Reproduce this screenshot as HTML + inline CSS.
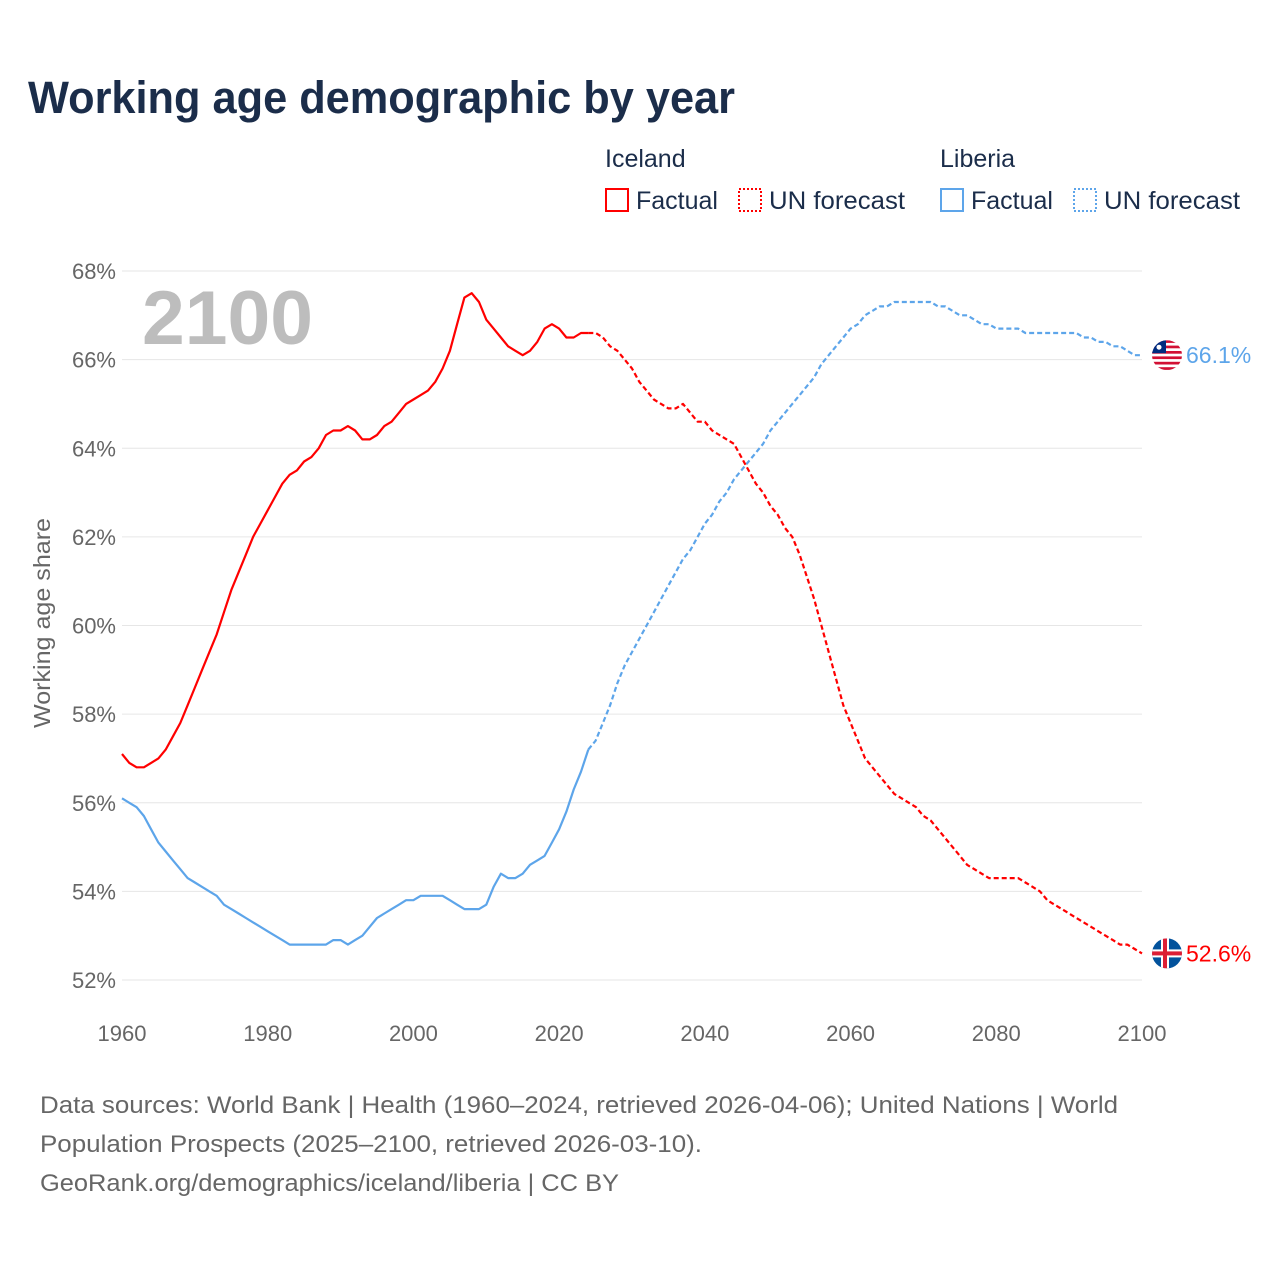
<!DOCTYPE html>
<html><head><meta charset="utf-8"><style>
body{margin:0;background:#fff;font-family:"Liberation Sans",sans-serif;}
#wrap{position:relative;width:1280px;height:1280px;overflow:hidden;}
svg text{font-family:"Liberation Sans",sans-serif;}
</style></head><body>
<div id="wrap">
<svg id="chart" width="1280" height="1280">
<text x="28" y="113" font-size="45" font-weight="bold" fill="#1b2d4a" textLength="707" lengthAdjust="spacingAndGlyphs">Working age demographic by year</text>
<g font-size="25" fill="#1b2d4a">
<text x="605" y="167">Iceland</text>
<rect x="606" y="189" width="22" height="22" fill="none" stroke="#ff0000" stroke-width="2"/>
<text x="636" y="209">Factual</text>
<rect x="739" y="189" width="22" height="22" fill="none" stroke="#ff0000" stroke-width="2" stroke-dasharray="2,2"/>
<text x="769" y="209" textLength="136" lengthAdjust="spacingAndGlyphs">UN forecast</text>
<text x="940" y="167">Liberia</text>
<rect x="941" y="189" width="22" height="22" fill="none" stroke="#5da5ea" stroke-width="2"/>
<text x="971" y="209">Factual</text>
<rect x="1074" y="189" width="22" height="22" fill="none" stroke="#5da5ea" stroke-width="2" stroke-dasharray="2,2"/>
<text x="1104" y="209" textLength="136" lengthAdjust="spacingAndGlyphs">UN forecast</text>
</g>
<g id="grid"></g>
<text x="142" y="344" font-size="76" font-weight="bold" fill="#bdbdbd" textLength="171" lengthAdjust="spacingAndGlyphs">2100</text>
<text transform="translate(50,623) rotate(-90)" text-anchor="middle" font-size="23" fill="#666" textLength="210" lengthAdjust="spacingAndGlyphs">Working age share</text>
<g id="series"></g>
<g font-size="24" fill="#666">
<text x="40" y="1113" textLength="1078" lengthAdjust="spacingAndGlyphs">Data sources: World Bank | Health (1960–2024, retrieved 2026-04-06); United Nations | World</text>
<text x="40" y="1152" textLength="662" lengthAdjust="spacingAndGlyphs">Population Prospects (2025–2100, retrieved 2026-03-10).</text>
<text x="40" y="1191" textLength="579" lengthAdjust="spacingAndGlyphs">GeoRank.org/demographics/iceland/liberia | CC BY</text>
</g>
</svg>
</div>
<script>
const yTicks=[52,54,56,58,60,62,64,66,68];
const xTicks=[1960,1980,2000,2020,2040,2060,2080,2100];
const icelandFactStart=1960;
const icelandFactual=[57.1,56.9,56.8,56.8,56.9,57.0,57.2,57.5,57.8,58.2,58.6,59.0,59.4,59.8,60.3,60.8,61.2,61.6,62.0,62.3,62.6,62.9,63.2,63.4,63.5,63.7,63.8,64.0,64.3,64.4,64.4,64.5,64.4,64.2,64.2,64.3,64.5,64.6,64.8,65.0,65.1,65.2,65.3,65.5,65.8,66.2,66.8,67.4,67.5,67.3,66.9,66.7,66.5,66.3,66.2,66.1,66.2,66.4,66.7,66.8,66.7,66.5,66.5,66.6,66.6];
const icelandFcStart=2024;
const icelandForecast=[66.6,66.6,66.5,66.3,66.2,66.0,65.8,65.5,65.3,65.1,65.0,64.9,64.9,65.0,64.8,64.6,64.6,64.4,64.3,64.2,64.1,63.8,63.5,63.2,63.0,62.7,62.5,62.2,62.0,61.6,61.1,60.6,60.0,59.4,58.8,58.2,57.8,57.4,57.0,56.8,56.6,56.4,56.2,56.1,56.0,55.9,55.7,55.6,55.4,55.2,55.0,54.8,54.6,54.5,54.4,54.3,54.3,54.3,54.3,54.3,54.2,54.1,54.0,53.8,53.7,53.6,53.5,53.4,53.3,53.2,53.1,53.0,52.9,52.8,52.8,52.7,52.6];
const liberiaFactStart=1960;
const liberiaFactual=[56.1,56.0,55.9,55.7,55.4,55.1,54.9,54.7,54.5,54.3,54.2,54.1,54.0,53.9,53.7,53.6,53.5,53.4,53.3,53.2,53.1,53.0,52.9,52.8,52.8,52.8,52.8,52.8,52.8,52.9,52.9,52.8,52.9,53.0,53.2,53.4,53.5,53.6,53.7,53.8,53.8,53.9,53.9,53.9,53.9,53.8,53.7,53.6,53.6,53.6,53.7,54.1,54.4,54.3,54.3,54.4,54.6,54.7,54.8,55.1,55.4,55.8,56.3,56.7,57.2];
const liberiaFcStart=2024;
const liberiaForecast=[57.2,57.4,57.8,58.2,58.7,59.1,59.4,59.7,60.0,60.3,60.6,60.9,61.2,61.5,61.7,62.0,62.3,62.5,62.8,63.0,63.3,63.5,63.7,63.9,64.1,64.4,64.6,64.8,65.0,65.2,65.4,65.6,65.9,66.1,66.3,66.5,66.7,66.8,67.0,67.1,67.2,67.2,67.3,67.3,67.3,67.3,67.3,67.3,67.2,67.2,67.1,67.0,67.0,66.9,66.8,66.8,66.7,66.7,66.7,66.7,66.6,66.6,66.6,66.6,66.6,66.6,66.6,66.6,66.5,66.5,66.4,66.4,66.3,66.3,66.2,66.1,66.1];
const NS='http://www.w3.org/2000/svg';
const X0=122,X1=1142,Y0=980,Y1=271;
const xs=y=>X0+(y-1960)*(X1-X0)/140;
const ys=v=>Y0-(v-52)*(Y0-Y1)/16;
const grid=document.getElementById('grid'),ser=document.getElementById('series');
function mk(tag,attrs,parent){const e=document.createElementNS(NS,tag);for(const k in attrs)e.setAttribute(k,attrs[k]);parent.appendChild(e);return e;}
yTicks.forEach(t=>{
 const l=mk('line',{x1:X0,x2:X1,y1:ys(t),y2:ys(t),stroke:'#e6e6e6','stroke-width':1},grid);
 
 
 const tx=mk('text',{x:116,y:ys(t)+8,'text-anchor':'end','font-size':22,fill:'#666'},grid);
 tx.textContent=t+'%';
 
 
});
xTicks.forEach(t=>{
 const tx=mk('text',{x:xs(t),y:1041,'text-anchor':'middle','font-size':22,fill:'#666'},grid);
 tx.textContent=t;
 
 
});
function path(arr,start,color,dash,name){
 const d=arr.map((v,i)=>(i?'L':'M')+xs(start+i).toFixed(1)+','+ys(v).toFixed(1)).join('');
 const p=mk('path',{d:d,fill:'none',stroke:color,'stroke-width':2.2,'stroke-linejoin':'round'},ser);
 if(dash)p.setAttribute('stroke-dasharray','5,3');
 
 
}
path(liberiaFactual,liberiaFactStart,'#5da5ea',false,'liberia-factual-line');
path(liberiaForecast,liberiaFcStart,'#5da5ea',true,'liberia-forecast-line');
path(icelandFactual,icelandFactStart,'#ff0000',false,'iceland-factual-line');
path(icelandForecast,icelandFcStart,'#ff0000',true,'iceland-forecast-line');
function endLabel(v,color,name,flag){
 const cx=1167,cy=ys(v);
 const g=mk('g',{},ser);
 
 
 const clip=mk('clipPath',{id:name+'clip'},g);
 mk('circle',{cx:cx,cy:cy,r:15},clip);
 const f=mk('g',{'clip-path':'url(#'+name+'clip)'},g);
 if(flag==='lr'){
  mk('rect',{x:cx-15,y:cy-15,width:30,height:30,fill:'#fff'},f);
  for(let i=0;i<6;i++)mk('rect',{x:cx-15,y:cy-15+i*5.4,width:30,height:2.7,fill:'#d21034'},f);
  mk('rect',{x:cx-15,y:cy-15,width:14,height:13,fill:'#002b7f'},f);
  mk('circle',{cx:cx-8,cy:cy-8,r:2.5,fill:'#fff'},f);
 }else{
  mk('rect',{x:cx-15,y:cy-15,width:30,height:30,fill:'#02529c'},f);
  mk('rect',{x:cx-15,y:cy-4,width:30,height:8,fill:'#fff'},f);
  mk('rect',{x:cx-6,y:cy-15,width:8,height:30,fill:'#fff'},f);
  mk('rect',{x:cx-15,y:cy-2,width:30,height:4,fill:'#dc1e35'},f);
  mk('rect',{x:cx-4,y:cy-15,width:4,height:30,fill:'#dc1e35'},f);
 }
 const t=mk('text',{x:1186,y:cy+8,'font-size':23,fill:color},ser);
 t.textContent=v.toFixed(1)+'%';
 
 
}
endLabel(liberiaForecast[liberiaForecast.length-1],'#5da5ea','liberia','lr');
endLabel(icelandForecast[icelandForecast.length-1],'#ff0000','iceland','is');
</script>
</body></html>
